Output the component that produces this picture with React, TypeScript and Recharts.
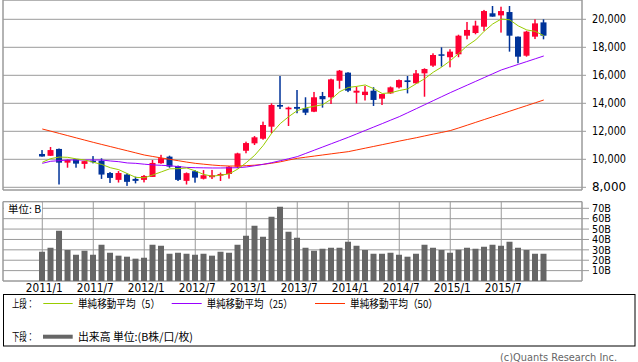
import React from 'react';
import { ComposedChart, Bar, Line, XAxis, YAxis, CartesianGrid, ReferenceArea } from 'recharts';

const months = [
  '2011/1','2011/2','2011/3','2011/4','2011/5','2011/6','2011/7','2011/8','2011/9','2011/10','2011/11','2011/12',
  '2012/1','2012/2','2012/3','2012/4','2012/5','2012/6','2012/7','2012/8','2012/9','2012/10','2012/11','2012/12',
  '2013/1','2013/2','2013/3','2013/4','2013/5','2013/6','2013/7','2013/8','2013/9','2013/10','2013/11','2013/12',
  '2014/1','2014/2','2014/3','2014/4','2014/5','2014/6','2014/7','2014/8','2014/9','2014/10','2014/11','2014/12',
  '2015/1','2015/2','2015/3','2015/4','2015/5','2015/6','2015/7','2015/8','2015/9','2015/10','2015/11','2015/12',
];

const opens = [
  10380,10250,10740,9760,10000,9670,9900,9900,9020,8530,8910,8600,
  8530,8740,9720,10190,9520,8460,9150,8610,8720,8830,8950,9470,
  10610,11140,11470,12330,13880,13570,13740,13640,13400,14520,14430,15610,
  16190,14760,14590,14900,14330,14710,15140,15640,15430,16140,16690,17500,
  17290,17500,18830,19020,19470,20430,20280,20520,18760,17400,18760,19780,
];
const highs = [
  10660,10880,10770,9990,10020,9890,10230,10070,9090,9160,9000,8760,
  8880,9950,10320,10260,9550,9060,9230,9230,9240,9050,9520,10470,
  11260,11660,12690,14000,15950,13760,14950,14430,14810,14810,15760,16380,
  16220,15190,15240,15150,14670,15200,15700,15950,16380,16500,17570,18000,
  17860,18900,19810,19900,20670,20950,20900,20950,18770,19180,20000,20000,
];
const lows = [
  10190,10240,8200,9400,9400,9330,9710,8600,8310,8340,8100,8280,
  8350,8740,9680,9400,8450,8200,8330,8560,8590,8450,8620,9360,
  10430,11020,11400,11860,13590,12380,13290,13160,13370,13690,13950,15040,
  14800,13990,14200,13810,13880,14680,15060,14710,15400,14470,16600,16620,
  16570,17290,18570,18930,19170,20190,19050,17690,16860,17330,18590,18570,
];
const closes = [
  10200,10660,9760,9950,9690,9870,9810,8910,8670,9020,8390,8460,
  8810,9740,10080,9480,8530,9010,8690,8860,8860,8950,9470,10420,
  11160,11570,12450,13880,13760,13690,13610,13330,14430,14290,15710,16330,
  14900,14900,14830,14240,14660,15140,15660,15520,16140,16450,17450,17430,
  17690,18830,19240,19550,20590,20190,20590,18830,17330,19120,19710,18830,
];
const ma5 = [
  9790,10050,10160,10140,10030,9950,9790,9630,9400,9260,8980,8710,
  8680,8880,9100,9320,9330,9380,9170,8920,8790,8870,8960,9300,
  9760,10290,10990,11870,12550,13050,13480,13670,13790,13900,14300,14830,
  15130,15210,15310,15040,14700,14750,14910,15030,15400,15760,16220,16590,
  17040,17560,18120,18530,19150,19670,20020,19960,19530,19240,19140,18830,
];
const ma25 = [
  9712,9860,9900,9950,9950,9950,9950,9950,9880,9830,9740,9712,
  9650,9600,9570,9540,9480,9420,9400,9390,9380,9380,9390,9400,
  9450,9540,9640,9760,9900,10040,10190,10420,10650,10880,11110,11340,
  11570,11815,12060,12305,12550,12800,13045,13330,13615,13900,14190,14475,
  14760,15030,15300,15570,15840,16110,16380,16580,16780,16980,17180,17380,
];
const ma50 = [
  12165,12010,11850,11690,11530,11370,11212,11060,10910,10760,10610,10460,
  10307,10200,10100,10000,9900,9800,9712,9650,9590,9545,9520,9520,
  9545,9580,9640,9720,9820,9950,10069,10150,10230,10310,10390,10470,
  10545,10670,10795,10920,11045,11170,11300,11420,11540,11670,11800,11920,
  12050,12240,12440,12640,12840,13040,13236,13436,13636,13836,14036,14236,
];
const volumes = [
  28.2,32,48.4,29.8,25.3,29.2,25.3,35,27.2,24.4,23.4,21.5,
  22.4,35,34,26.3,27.2,26.3,25.3,26.3,24.4,28.2,27.2,35,
  43.6,53.2,42.6,61.9,71.5,47.4,41.7,32,29.2,31.1,32,32,
  37.8,34,29.8,26.3,26.3,27.2,25.3,23.4,26.3,35,32,29.8,
  27.2,30.1,32,31.1,33,35,34,37.8,32,29.8,26.3,26.3,
];

const monthTicks = [0, 6, 12, 18, 24, 30, 36, 42, 48, 54];
const priceTicks = [8000, 10000, 12000, 14000, 16000, 18000, 20000];
const volTicks = [10, 20, 30, 40, 50, 60, 70];

const X_DOMAIN: [number, number] = [-4.62, 63.5];
const PRICE_DOMAIN: [number, number] = [7807, 21379];
const VOL_DOMAIN: [number, number] = [0, 76.35];

const RED = '#ff0033';
const BLUE = '#003399';
const GRID = '#9a9a9a';
const NUM_FONT = "'DejaVu Sans', sans-serif";
const JP_FONT = "'Noto Sans CJK JP', sans-serif";

const data = months.map((m, i) => ({
  i,
  m,
  o: opens[i],
  h: highs[i],
  l: lows[i],
  c: closes[i],
  range: [lows[i], highs[i]],
  ma5: ma5[i],
  ma25: ma25[i],
  ma50: ma50[i],
  vol: volumes[i],
}));

const Candle = (props: any) => {
  const { x, y, width, height, payload } = props;
  if (x == null || y == null || !payload) return null;
  const top = Math.min(y, y + height);
  const hpx = Math.abs(height);
  const { o, c, h: hi, l: lo } = payload;
  const ppu = hi > lo ? hpx / (hi - lo) : 0;
  const bTop = top + (hi - Math.max(o, c)) * ppu;
  const bBot = top + (hi - Math.min(o, c)) * ppu;
  const color = c >= o ? RED : BLUE;
  const cx = x + width / 2;
  return (
    <g>
      <rect x={cx - 0.75} y={top} width={1.5} height={hpx} fill={color} />
      <rect x={x} y={bTop} width={width} height={Math.max(1.5, bBot - bTop)} fill={color} />
    </g>
  );
};

const fmt = (v: number) => v.toLocaleString('en-US');

const PriceTick = (props: any) => {
  const { x, y, payload } = props;
  return (
    <text x={x} y={y} dy={4} fontSize={11.5} fontFamily={NUM_FONT} fill="#000"
      textAnchor="start" textLength={34} lengthAdjust="spacingAndGlyphs">
      {fmt(payload.value)}
    </text>
  );
};

const VolTick = (props: any) => {
  const { x, y, payload } = props;
  return (
    <text x={x} y={y} dy={3.7} fontSize={10} fontFamily={NUM_FONT} fill="#000"
      textAnchor="start" textLength={19} lengthAdjust="spacingAndGlyphs">
      {payload.value + 'B'}
    </text>
  );
};

const DateTick = (props: any) => {
  const { x, y, payload } = props;
  return (
    <text x={x + 2} y={y} dy={9} fontSize={12} fontFamily={NUM_FONT} fill="#000"
      textAnchor="middle" textLength={37} lengthAdjust="spacingAndGlyphs">
      {months[payload.value]}
    </text>
  );
};

export default function App() {
  return (
    <div style={{ position: 'absolute', left: 0, top: 0, width: 638, height: 362, background: '#fff', overflow: 'hidden' }}>
      <div style={{ position: 'absolute', left: 0, top: 0 }}>
        <ComposedChart width={638} height={195} data={data} margin={{ top: 0, right: 0, left: 3, bottom: 5 }}>
          <CartesianGrid stroke={GRID} strokeWidth={1} />
          <XAxis type="number" dataKey="i" domain={X_DOMAIN} ticks={monthTicks} allowDataOverflow interval={0}
            tick={false} tickLine={false} axisLine={false} height={0} />
          <YAxis orientation="right" width={56} domain={PRICE_DOMAIN} ticks={priceTicks} allowDataOverflow interval={0}
            axisLine={false} stroke={GRID} tickSize={4} tickMargin={6} tick={<PriceTick />} />
          <ReferenceArea x1={X_DOMAIN[0]} x2={X_DOMAIN[1]} y1={PRICE_DOMAIN[0]} y2={PRICE_DOMAIN[1]}
            fill="none" stroke={GRID} strokeWidth={1} />
          <Bar dataKey="range" barSize={6} shape={<Candle />} isAnimationActive={false} />
          <Line type="linear" dataKey="ma50" stroke="#ff3300" strokeWidth={1} dot={false} isAnimationActive={false} />
          <Line type="linear" dataKey="ma25" stroke="#9900ff" strokeWidth={1} dot={false} isAnimationActive={false} />
          <Line type="linear" dataKey="ma5" stroke="#99cc00" strokeWidth={1} dot={false} isAnimationActive={false} />
        </ComposedChart>
      </div>
      <div style={{ position: 'absolute', left: 0, top: 195 }}>
        <ComposedChart width={638} height={100} data={data} margin={{ top: 6.7, right: 0, left: 3, bottom: 0 }}>
          <CartesianGrid stroke={GRID} strokeWidth={1} />
          <XAxis type="number" dataKey="i" domain={X_DOMAIN} ticks={monthTicks} allowDataOverflow interval={0}
            axisLine={false} tickLine={false} tickSize={0} tickMargin={2} height={14} tick={<DateTick />} />
          <YAxis orientation="right" width={56} domain={VOL_DOMAIN} ticks={volTicks} allowDataOverflow interval={0}
            axisLine={false} stroke={GRID} tickSize={7} tickMargin={3} tick={<VolTick />} />
          <ReferenceArea x1={X_DOMAIN[0]} x2={X_DOMAIN[1]} y1={VOL_DOMAIN[0]} y2={VOL_DOMAIN[1]}
            fill="none" stroke={GRID} strokeWidth={1} />
          <Bar dataKey="vol" barSize={6} fill="#666666" isAnimationActive={false} />
        </ComposedChart>
      </div>
      <svg width={638} height={362} style={{ position: 'absolute', left: 0, top: 0, pointerEvents: 'none' }}>
        <rect x={4} y={203} width={38} height={11.5} fill="#fff" />
        <text x={8} y={213.2} fontSize={10} fontFamily={JP_FONT} fill="#000" textLength={33} lengthAdjust="spacingAndGlyphs">単位: B</text>

        <rect x={3.5} y={294.5} width={631.5} height={51.5} fill="none" stroke="#000" strokeWidth={1} />
        <text x={12} y={307.5} fontSize={11} fontFamily={JP_FONT} fill="#000" textLength={22} lengthAdjust="spacingAndGlyphs">上段：</text>
        <line x1={43.3} x2={72.7} y1={303.5} y2={303.5} stroke="#99cc00" strokeWidth={1} />
        <text x={78} y={307.5} fontSize={11} fontFamily={JP_FONT} fill="#000" textLength={82} lengthAdjust="spacingAndGlyphs">単純移動平均（5）</text>
        <line x1={171.7} x2={201.7} y1={303.5} y2={303.5} stroke="#9900ff" strokeWidth={1} />
        <text x={206.7} y={307.5} fontSize={11} fontFamily={JP_FONT} fill="#000" textLength={86} lengthAdjust="spacingAndGlyphs">単純移動平均（25）</text>
        <line x1={315} x2={345} y1={303.5} y2={303.5} stroke="#ff3300" strokeWidth={1} />
        <text x={350} y={307.5} fontSize={11} fontFamily={JP_FONT} fill="#000" textLength={88} lengthAdjust="spacingAndGlyphs">単純移動平均（50）</text>

        <text x={12} y={341} fontSize={11} fontFamily={JP_FONT} fill="#000" textLength={22} lengthAdjust="spacingAndGlyphs">下段：</text>
        <line x1={43} x2={72.7} y1={336.7} y2={336.7} stroke="#666666" strokeWidth={4} />
        <text x={78} y={341} fontSize={11} fontFamily={JP_FONT} fill="#000" textLength={115} lengthAdjust="spacingAndGlyphs">出来高 単位:(B株/口/枚)</text>

        <text x={500} y={360.5} fontSize={11} fontFamily={NUM_FONT} fill="#666" textLength={117} lengthAdjust="spacingAndGlyphs">(c)Quants Research Inc.</text>
      </svg>
    </div>
  );
}
